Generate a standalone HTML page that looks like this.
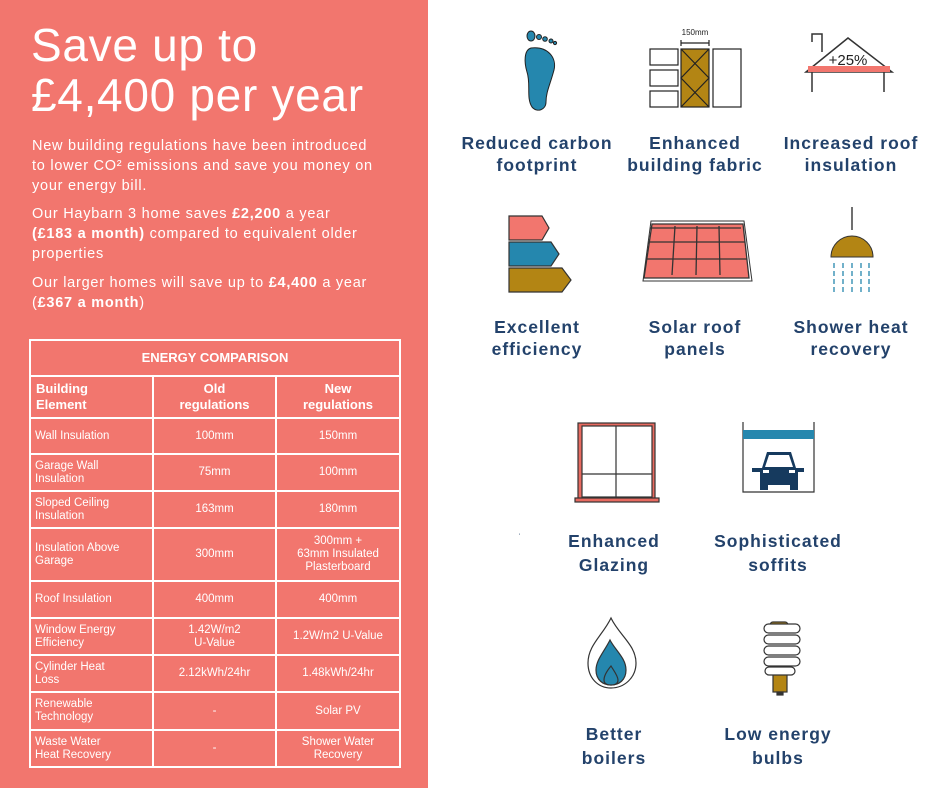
<!DOCTYPE html>
<html><head><meta charset="utf-8"><style>
*{margin:0;padding:0;box-sizing:border-box}
body{width:940px;height:788px;background:#fff;position:relative;overflow:hidden;font-family:"Liberation Sans",sans-serif}
#left{position:absolute;left:0;top:0;width:428px;height:788px;background:#f2766e;color:#fff}
.t{position:absolute;left:31px;font-size:46px;font-weight:normal;letter-spacing:0.7px;line-height:50px}
.p{position:absolute;left:32px;font-size:14.5px;line-height:20px;width:390px;white-space:nowrap;letter-spacing:0.75px}
table{position:absolute;left:29px;top:339px;width:370px;border-collapse:collapse;color:#fff;table-layout:fixed}
td{border:2px solid #fff;font-size:11.5px;text-align:center;line-height:13px;padding:0 4px}
td.l{text-align:left}
th{border:2px solid #fff;font-size:13px;font-weight:bold;line-height:16px}
.lab{position:absolute;color:#23426b;font-size:17.5px;font-weight:bold;text-align:center;line-height:22px;width:200px;letter-spacing:1px}
</style></head><body>
<div id="left">
<div class="t" style="top:20px">Save up to</div>
<div class="t" style="top:70px">£4,400 per year</div>
<div class="p" style="top:136px">New building regulations have been introduced<br>to lower CO² emissions and save you money on<br>your energy bill.</div>
<div class="p" style="top:204px">Our Haybarn 3 home saves <b>£2,200</b> a year<br><b>(£183 a month)</b> compared to equivalent older<br>properties</div>
<div class="p" style="top:273px">Our larger homes will save up to <b>£4,400</b> a year<br>(<b>£367 a month</b>)</div>
<table>
<colgroup><col style="width:123px"><col style="width:123px"><col style="width:124px"></colgroup>
<tr style="height:36px"><th colspan="3">ENERGY COMPARISON</th></tr>
<tr style="height:42px"><th style="text-align:left;padding-left:5px">Building<br>Element</th><th>Old<br>regulations</th><th>New<br>regulations</th></tr>
<tr style="height:36px"><td class="l">Wall Insulation</td><td>100mm</td><td>150mm</td></tr>
<tr style="height:37px"><td class="l">Garage Wall<br>Insulation</td><td>75mm</td><td>100mm</td></tr>
<tr style="height:37px"><td class="l">Sloped Ceiling<br>Insulation</td><td>163mm</td><td>180mm</td></tr>
<tr style="height:53px"><td class="l">Insulation Above<br>Garage</td><td>300mm</td><td>300mm +<br>63mm Insulated<br>Plasterboard</td></tr>
<tr style="height:37px"><td class="l">Roof Insulation</td><td>400mm</td><td>400mm</td></tr>
<tr style="height:37px"><td class="l">Window Energy<br>Efficiency</td><td>1.42W/m2<br>U-Value</td><td>1.2W/m2 U-Value</td></tr>
<tr style="height:37px"><td class="l">Cylinder Heat<br>Loss</td><td>2.12kWh/24hr</td><td>1.48kWh/24hr</td></tr>
<tr style="height:38px"><td class="l">Renewable<br>Technology</td><td>-</td><td>Solar PV</td></tr>
<tr style="height:37px"><td class="l">Waste Water<br>Heat Recovery</td><td>-</td><td>Shower Water<br>Recovery</td></tr>
</table>
</div>
<svg width="940" height="788" style="position:absolute;left:0;top:0">
<g fill="#2587ae" stroke="#222" stroke-width="1">
<path d="M531 48 C524 50 524 62 527 72 C531 84 526 98 532 107 C537 113 546 110 546 102 C546 92 550 85 554 70 C557 58 548 46 531 48Z"/>
<ellipse cx="531" cy="36" rx="4" ry="5"/><circle cx="539" cy="37" r="2.5"/><circle cx="545" cy="39" r="2.3"/><circle cx="551" cy="41" r="2"/><circle cx="555" cy="43" r="1.6"/>
</g>
<g stroke="#222" stroke-width="1.2" fill="#fff">
<rect x="650" y="49" width="28" height="16"/><rect x="650" y="70" width="28" height="16"/><rect x="650" y="91" width="28" height="16"/>
<rect x="681" y="49" width="28" height="58" fill="#b38514"/>
<path d="M681 49 L709 78 L681 107 M709 49 L681 78 L709 107" fill="none"/>
<rect x="713" y="49" width="28" height="58"/>
<path d="M681 43 H709 M681 40 V46 M709 40 V46" fill="none"/>
</g>
<text x="695" y="35" font-size="8" text-anchor="middle" fill="#222" font-family="Liberation Sans">150mm</text>
<g stroke="#333" stroke-width="1.5" fill="none">
<path d="M812 42 V34 H822 V52"/>
<path d="M806 72 L848 38 L892 72 Z" fill="#fff"/>
<rect x="808" y="66" width="82" height="6" fill="#f2766e" stroke="none"/>
<path d="M812 72 V92 M884 72 V92"/>
</g>
<text x="848" y="65" font-size="15" text-anchor="middle" fill="#222" font-family="Liberation Sans">+25%</text>
<g stroke="#333" stroke-width="1.2">
<path d="M509 216 H542 L549 228 L542 240 H509Z" fill="#f2766e"/>
<path d="M509 242 H551 L559 254 L551 266 H509Z" fill="#2587ae"/>
<path d="M509 268 H562 L571 280 L562 292 H509Z" fill="#b38514"/>
</g>
<g stroke="#333" stroke-width="1.3">
<path d="M652 224 H743 L749 278 H644Z" fill="#f2766e"/>
<path d="M650 228 H741 M648 242 H745 M646 259 H747 M675 226 L672 275 M697 226 L696 275 M719 226 L720 275" fill="none"/>
<path d="M651 221 H744 L752 281 H643Z" fill="none" stroke-width="1"/>
</g>
<g>
<line x1="852" y1="207" x2="852" y2="230" stroke="#222" stroke-width="1.3"/>
<path d="M831 257 A21 21 0 0 1 873 257 Z" fill="#b38514" stroke="#333"/>
<g stroke="#2587ae" stroke-width="1.3" stroke-dasharray="5,3">
<path d="M834 263 V295 M843 263 V295 M852 263 V295 M861 263 V295 M869 263 V295"/></g>
</g>
<g stroke="#333" stroke-width="1.2">
<rect x="578" y="423" width="77" height="76" fill="#e86a60"/>
<rect x="582" y="426" width="70" height="71" fill="#fff"/>
<path d="M616 426 V497 M582 474 H652" fill="none"/>
<rect x="575" y="498" width="84" height="4" fill="#e86a60"/>
</g>
<g>
<path d="M743 422 V492 H814 V422" fill="none" stroke="#333" stroke-width="1.2"/>
<rect x="743" y="430" width="71" height="9" fill="#2587ae"/>
<path d="M762 468 L767 452 H791 L796 468 H804 V472 H798 V490 H790 V485 H768 V490 H760 V472 H752 V468Z" fill="#163a5e"/>
<path d="M769 455 H789 L793 467 H765Z" fill="#fff"/>
<rect x="763" y="470" width="6" height="3" fill="#fff"/><rect x="789" y="470" width="6" height="3" fill="#fff"/>
</g>
<text x="519" y="538" font-size="6" fill="#23426b">'</text>
<g stroke="#333" stroke-width="1.2">
<path d="M611 618 C603 635 588 645 588 663 C588 678 598 688 611 688 C624 688 636 678 636 663 C636 645 619 635 611 618Z" fill="#fff"/>
<path d="M610 640 C604 652 596 660 596 670 C596 680 603 685 611 685 C619 685 626 680 626 670 C626 658 615 650 610 640Z" fill="#2587ae"/>
<path d="M611 666 C606 672 604 676 604 680 C604 684 607 685 611 685 C615 685 618 684 618 680 C618 676 614 671 611 666Z" fill="#2587ae"/>
</g>
<g stroke="#333" stroke-width="1.2">
<rect x="770" y="622" width="18" height="8" rx="3" fill="#b38514"/>
<rect x="773" y="672" width="14" height="20" fill="#b38514"/>
<rect x="777" y="692" width="6" height="3" fill="#333"/>
<g fill="#fff">
<rect x="764" y="624" width="36" height="9" rx="4.5"/>
<rect x="764" y="635" width="36" height="9" rx="4.5"/>
<rect x="764" y="646" width="36" height="9" rx="4.5"/>
<rect x="764" y="657" width="36" height="9" rx="4.5"/>
<rect x="765" y="667" width="30" height="8" rx="4"/>
</g></g>
</svg>
<div class="lab" style="left:437px;top:132px">Reduced carbon<br>footprint</div>
<div class="lab" style="left:595px;top:132px">Enhanced<br>building fabric</div>
<div class="lab" style="left:751px;top:132px">Increased roof<br>insulation</div>
<div class="lab" style="left:437px;top:316px">Excellent<br>efficiency</div>
<div class="lab" style="left:595px;top:316px">Solar roof<br>panels</div>
<div class="lab" style="left:751px;top:316px">Shower heat<br>recovery</div>
<div class="lab" style="left:514px;top:529px;line-height:24px">Enhanced<br>Glazing</div>
<div class="lab" style="left:678px;top:529px;line-height:24px">Sophisticated<br>soffits</div>
<div class="lab" style="left:514px;top:722px;line-height:24px">Better<br>boilers</div>
<div class="lab" style="left:678px;top:722px;line-height:24px">Low energy<br>bulbs</div>
</body></html>
